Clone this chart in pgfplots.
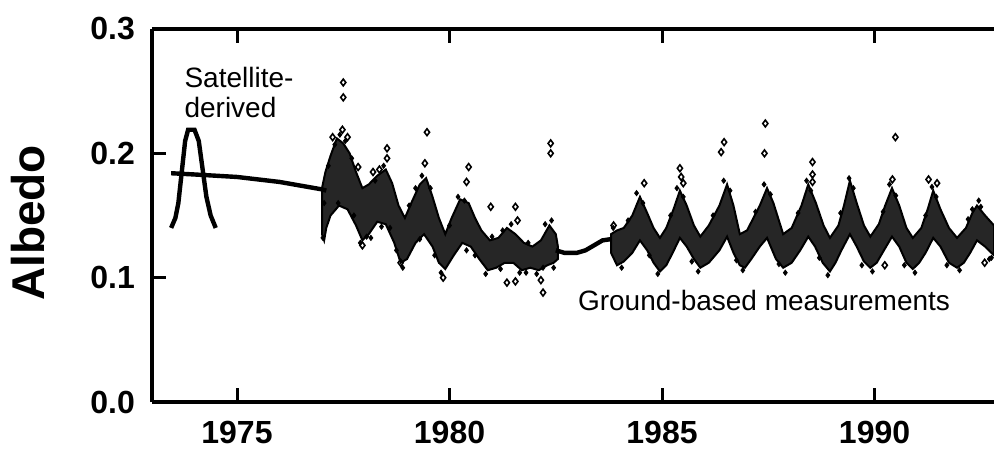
\documentclass[border=0pt]{standalone}
\usepackage{fontspec}
\setmainfont{Liberation Sans}
\usepackage{pgfplots}
\pgfplotsset{compat=1.18}

\begin{document}
\begin{tikzpicture}
\begin{axis}[
  at={(0,0)}, anchor=south west,
  scale only axis, width=421pt, height=186.5pt,
  xmin=1973.0, xmax=1992.81, ymin=0, ymax=0.3,
  axis x line*=box, axis y line*=left,
  axis line style={line width=2pt, -},
  xtick={1975,1980,1985,1990}, ytick={0,0.1,0.2,0.3},
  tick align=inside, major tick length=7pt,
  tick style={line width=1.5pt, black},
  ticklabel style={font=\bfseries\fontsize{16}{16}\selectfont},
  /pgf/number format/assume math mode=true,
  x tick label style={/pgf/number format/set thousands separator={}, yshift=-6pt},
  y tick label style={/pgf/number format/fixed, /pgf/number format/fixed zerofill,
                      /pgf/number format/precision=1, xshift=-5pt},
  ylabel={Albedo},
  every axis y label/.style={at={([xshift=-62pt]axis description cs:0,0.48)},
                             rotate=90, anchor=center,
                             font=\bfseries\fontsize{23}{23}\selectfont},
]

% ground-based band, 1977-1982
\addplot[fill=black!85, draw=black, line width=1pt] coordinates {
  (1977.00,0.172) (1977.08,0.185) (1977.20,0.198) (1977.35,0.212) (1977.50,0.208)
  (1977.65,0.200) (1977.80,0.185) (1977.95,0.172) (1978.10,0.175) (1978.30,0.182)
  (1978.50,0.187) (1978.65,0.176) (1978.80,0.158) (1978.95,0.148) (1979.10,0.160)
  (1979.30,0.175) (1979.45,0.180) (1979.60,0.165) (1979.75,0.148) (1979.90,0.135)
  (1980.05,0.148) (1980.25,0.163) (1980.45,0.160) (1980.60,0.148) (1980.75,0.138)
  (1980.95,0.130) (1981.15,0.132) (1981.35,0.140) (1981.55,0.135) (1981.75,0.128)
  (1981.95,0.125) (1982.15,0.130) (1982.35,0.142) (1982.50,0.135) (1982.55,0.125)
  (1982.55,0.115) (1982.45,0.112) (1982.30,0.110) (1982.10,0.106) (1981.90,0.108)
  (1981.70,0.106) (1981.50,0.112) (1981.30,0.112) (1981.10,0.108) (1980.90,0.106)
  (1980.70,0.115) (1980.50,0.125) (1980.30,0.128) (1980.10,0.118) (1979.90,0.107)
  (1979.75,0.112) (1979.60,0.125) (1979.40,0.135) (1979.20,0.128) (1979.00,0.115)
  (1978.85,0.112) (1978.70,0.128) (1978.50,0.143) (1978.30,0.145) (1978.10,0.135)
  (1977.95,0.130) (1977.80,0.142) (1977.60,0.155) (1977.40,0.158) (1977.20,0.150)
  (1977.10,0.140) (1977.05,0.130) (1977.00,0.135)
} -- cycle;

% ground-based band, 1984-1992
\addplot[fill=black!85, draw=black, line width=1pt] coordinates {
  (1983.80,0.135) (1983.94,0.138) (1984.10,0.140) (1984.30,0.150) (1984.48,0.165)
  (1984.65,0.152) (1984.80,0.140) (1984.95,0.132) (1985.10,0.140) (1985.27,0.155)
  (1985.42,0.170) (1985.58,0.158) (1985.75,0.142) (1985.90,0.133) (1986.10,0.142)
  (1986.35,0.158) (1986.53,0.175) (1986.68,0.158) (1986.83,0.135) (1987.00,0.138)
  (1987.30,0.158) (1987.47,0.172) (1987.62,0.160) (1987.85,0.135) (1988.05,0.140)
  (1988.28,0.158) (1988.44,0.175) (1988.62,0.160) (1988.80,0.142) (1988.95,0.132)
  (1989.15,0.142) (1989.28,0.158) (1989.42,0.178) (1989.58,0.160) (1989.75,0.142)
  (1989.90,0.133) (1990.10,0.143) (1990.25,0.158) (1990.41,0.172) (1990.58,0.158)
  (1990.75,0.140) (1990.90,0.132) (1991.10,0.140) (1991.25,0.155) (1991.38,0.170)
  (1991.55,0.155) (1991.75,0.140) (1991.94,0.132) (1992.15,0.140) (1992.30,0.152)
  (1992.41,0.158) (1992.60,0.150) (1992.81,0.142)
  (1992.81,0.118) (1992.60,0.125) (1992.41,0.130) (1992.25,0.120) (1992.10,0.112)
  (1991.94,0.108) (1991.75,0.112) (1991.55,0.125) (1991.38,0.132) (1991.20,0.120)
  (1991.05,0.112) (1990.90,0.107) (1990.75,0.112) (1990.58,0.125) (1990.41,0.133)
  (1990.22,0.122) (1990.05,0.112) (1989.90,0.108) (1989.75,0.113) (1989.58,0.125)
  (1989.42,0.135) (1989.22,0.122) (1989.08,0.112) (1988.95,0.105) (1988.78,0.112)
  (1988.60,0.125) (1988.44,0.133) (1988.25,0.122) (1988.05,0.112) (1987.85,0.108)
  (1987.68,0.115) (1987.47,0.132) (1987.30,0.125) (1987.10,0.115) (1986.95,0.108)
  (1986.83,0.110) (1986.68,0.120) (1986.53,0.133) (1986.35,0.122) (1986.10,0.112)
  (1985.90,0.108) (1985.75,0.115) (1985.58,0.125) (1985.42,0.132) (1985.25,0.120)
  (1985.10,0.110) (1984.95,0.105) (1984.80,0.112) (1984.65,0.122) (1984.48,0.130)
  (1984.30,0.120) (1984.10,0.113) (1983.94,0.110) (1983.80,0.120)
} -- cycle;

% speckle along the band edges
\addplot[only marks, mark=diamond*, mark size=1.3pt, black] coordinates {
  (1977.05,0.160) (1977.15,0.190) (1977.30,0.207) (1977.42,0.215) (1977.55,0.210)
  (1977.70,0.196) (1977.75,0.150) (1977.90,0.128) (1978.05,0.133) (1978.25,0.178)
  (1978.45,0.190) (1978.60,0.140) (1978.75,0.122) (1978.90,0.108) (1979.05,0.158)
  (1979.20,0.172) (1979.35,0.182) (1979.55,0.172) (1979.65,0.118) (1979.80,0.104)
  (1980.00,0.142) (1980.20,0.165) (1980.35,0.162) (1980.60,0.118) (1980.85,0.103)
  (1981.00,0.133) (1981.25,0.138) (1981.45,0.143) (1981.65,0.104) (1981.85,0.128)
  (1982.05,0.103) (1982.25,0.143) (1982.40,0.146) (1982.45,0.108)
  (1977.02,0.132) (1977.38,0.160) (1978.15,0.132) (1978.40,0.141) (1979.30,0.131)
  (1980.40,0.122) (1981.20,0.107) (1981.80,0.104) (1982.20,0.108)
  (1983.85,0.140) (1984.05,0.108) (1984.40,0.168) (1984.55,0.160) (1984.90,0.103)
  (1985.35,0.172) (1985.50,0.165) (1985.85,0.105) (1986.45,0.178) (1986.60,0.170)
  (1986.90,0.106) (1987.40,0.175) (1987.55,0.167) (1987.90,0.104) (1988.40,0.178)
  (1988.50,0.170) (1988.90,0.102) (1989.40,0.180) (1989.50,0.172) (1989.95,0.105)
  (1990.35,0.175) (1990.50,0.166) (1990.95,0.104) (1991.35,0.173) (1991.45,0.165)
  (1992.00,0.106) (1992.30,0.155) (1992.45,0.162) (1992.50,0.157) (1992.70,0.115)
  (1984.20,0.146) (1985.20,0.150) (1986.20,0.150) (1987.20,0.153) (1988.20,0.152)
  (1989.20,0.152) (1990.20,0.153) (1991.20,0.150) (1992.20,0.147)
  (1984.70,0.118) (1985.70,0.113) (1986.75,0.114) (1987.75,0.111) (1988.70,0.116)
  (1989.70,0.110) (1990.70,0.110) (1991.70,0.110) (1992.75,0.116)
};

% outliers
\addplot[only marks, mark=diamond, mark size=1.7pt, black, line width=0.8pt] coordinates {
  (1977.50,0.257) (1977.50,0.245) (1977.48,0.219) (1977.25,0.213) (1977.60,0.213)
  (1977.85,0.189) (1978.35,0.187) (1978.20,0.185) (1978.53,0.204) (1978.53,0.196)
  (1979.47,0.217) (1979.42,0.192) (1980.45,0.189) (1980.40,0.177) (1980.97,0.157)
  (1981.55,0.157) (1981.60,0.146) (1982.38,0.208) (1982.38,0.200) (1979.85,0.100)
  (1981.35,0.096) (1981.55,0.097) (1982.20,0.088) (1982.15,0.098) (1977.95,0.126)
  (1978.85,0.112) (1984.58,0.176) (1985.42,0.188) (1985.50,0.176) (1985.45,0.181)
  (1986.46,0.209) (1986.39,0.201) (1987.43,0.224) (1987.41,0.200) (1988.54,0.193)
  (1988.54,0.183) (1988.54,0.177) (1990.49,0.213) (1990.42,0.179) (1991.27,0.179)
  (1991.47,0.176) (1990.24,0.110) (1992.59,0.112) (1983.86,0.142)
};

% gap between the two ground-based records
\addplot[black, line width=2.2pt] coordinates {
  (1982.50,0.122) (1982.70,0.120) (1983.00,0.120) (1983.20,0.122)
  (1983.40,0.126) (1983.60,0.130) (1983.80,0.131)
};

% satellite-derived peak
\addplot[black, line width=2.2pt] coordinates {
  (1973.45,0.140) (1973.55,0.148) (1973.62,0.160) (1973.70,0.185) (1973.78,0.210)
  (1973.85,0.219) (1974.00,0.219) (1974.10,0.210) (1974.18,0.190) (1974.28,0.165)
  (1974.38,0.150) (1974.50,0.140)
};

% satellite-derived trend line
\addplot[black, line width=2.2pt] coordinates {
  (1973.45,0.184) (1974.00,0.183) (1974.50,0.182) (1975.00,0.181) (1975.50,0.179)
  (1976.00,0.177) (1976.50,0.174) (1977.00,0.171) (1977.10,0.170)
};

\node[anchor=west, align=left, font=\fontsize{14}{15}\selectfont]
  at (axis cs:1973.60,0.249) {Satellite-\\derived};
\node[font=\fontsize{14}{15}\selectfont]
  at (axis cs:1987.40,0.082) {Ground-based measurements};
\end{axis}
\pgfresetboundingbox
\path[use as bounding box] (-76pt,-24.5pt) rectangle (421pt,201pt);
\end{tikzpicture}
\end{document}
